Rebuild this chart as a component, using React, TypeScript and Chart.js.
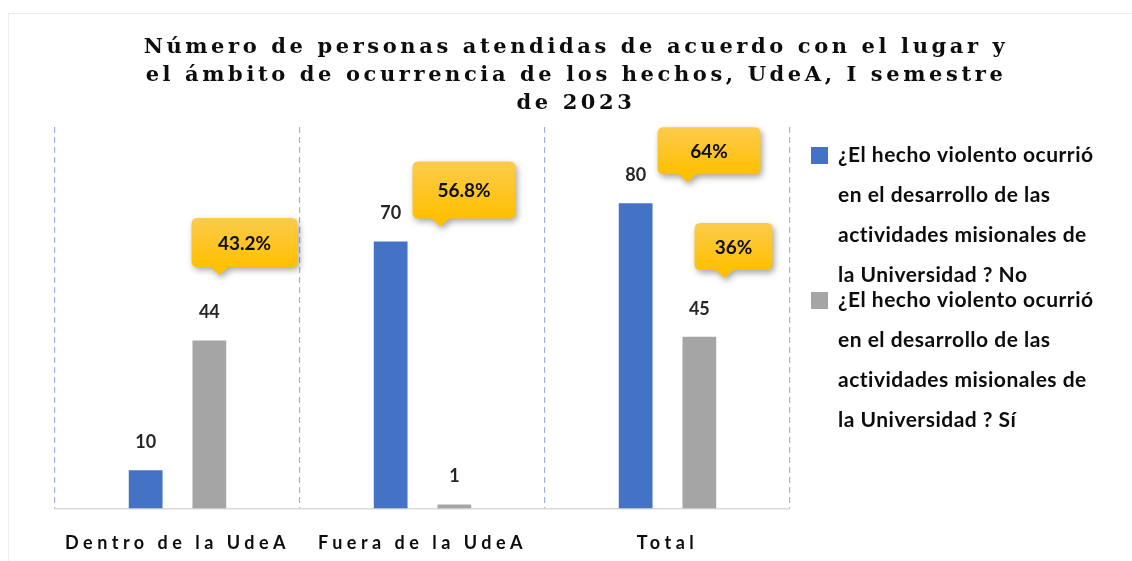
import React, { useEffect, useRef } from "react";
import { Chart, registerables } from "chart.js";

Chart.register(...registerables);

// ---------- DATA ----------
const categories = ["Dentro de la UdeA", "Fuera de la UdeA", "Total"];
const seriesNoValues = [10, 70, 80];
const seriesSiValues = [44, 1, 45];
const seriesNoLegend = [
  "¿El hecho violento ocurrió",
  "en el desarrollo de las",
  "actividades misionales de",
  "la Universidad ? No",
];
const seriesSiLegend = [
  "¿El hecho violento ocurrió",
  "en el desarrollo de las",
  "actividades misionales de",
  "la Universidad ? Sí",
];
const titleLines = [
  "Número de personas atendidas de acuerdo con el lugar y",
  "el ámbito de ocurrencia de los hechos, UdeA, I semestre",
  "de 2023",
];
const calloutTexts = ["43.2%", "56.8%", "64%", "36%"];
const calloutCategory = [0, 1, 2, 2];
const calloutTipValue = [61.2, 73.9, 85.5, 60.4];
const yMin = 0;
const yMax = 100;

// ---------- STYLE / LAYOUT ----------
const W = 1132;
const H = 561;
const BLUE = "#4472C4";
const GRAY = "#A5A5A5";
const TEXT = "#0d0d0d";
// callout geometry (px): tip x offset from category centre, box left from tip, width, height
const calloutLayout = [
  { dx: 42, left: -28, w: 106, h: 49 },
  { dx: 18, left: -28, w: 103, h: 57 },
  { dx: 20, left: -30, w: 103, h: 47 },
  { dx: 57, left: -30, w: 78, h: 47 },
];

const titlePlugin = {
  id: "customTitle",
  afterDraw(chart: any) {
    const ctx = chart.ctx;
    ctx.save();
    ctx.font = "bold 21px 'DejaVu Serif'";
    (ctx as any).letterSpacing = "3.6px";
    ctx.fillStyle = TEXT;
    ctx.textAlign = "center";
    ctx.textBaseline = "middle";
    titleLines.forEach((line, i) => {
      ctx.fillText(line, 576, 48 + i * 28);
    });
    ctx.restore();
  },
};

const spacingPlugin = {
  id: "tickSpacing",
  beforeDraw(chart: any) {
    (chart.ctx as any).letterSpacing = "4.5px";
  },
  beforeDatasetsDraw(chart: any) {
    (chart.ctx as any).letterSpacing = "0px";
  },
};

const valueLabelPlugin = {
  id: "valueLabels",
  afterDatasetsDraw(chart: any) {
    const ctx = chart.ctx;
    ctx.save();
    ctx.font = "bold 18px Lato";
    ctx.fillStyle = "#262626";
    ctx.textAlign = "center";
    ctx.textBaseline = "middle";
    chart.data.datasets.forEach((ds: any, di: number) => {
      const meta = chart.getDatasetMeta(di);
      meta.data.forEach((el: any, i: number) => {
        ctx.fillText(String(ds.data[i]), el.x, el.y - 28);
      });
    });
    ctx.restore();
  },
};

const calloutPlugin = {
  id: "callouts",
  afterDatasetsDraw(chart: any) {
    const ctx = chart.ctx;
    const xs = chart.scales.x;
    const ys = chart.scales.y;
    calloutTexts.forEach((txt, i) => {
      const L = calloutLayout[i];
      const tipX = xs.getPixelForValue(calloutCategory[i]) + L.dx;
      const tipY = ys.getPixelForValue(calloutTipValue[i]);
      const bottom = tipY - 8;
      const top = bottom - L.h;
      const left = tipX + L.left;
      const right = left + L.w;
      const r = 6;
      ctx.save();
      ctx.beginPath();
      ctx.moveTo(left + r, top);
      ctx.lineTo(right - r, top);
      ctx.quadraticCurveTo(right, top, right, top + r);
      ctx.lineTo(right, bottom - r);
      ctx.quadraticCurveTo(right, bottom, right - r, bottom);
      ctx.lineTo(tipX + 9, bottom);
      ctx.lineTo(tipX, tipY);
      ctx.lineTo(tipX - 9, bottom);
      ctx.lineTo(left + r, bottom);
      ctx.quadraticCurveTo(left, bottom, left, bottom - r);
      ctx.lineTo(left, top + r);
      ctx.quadraticCurveTo(left, top, left + r, top);
      ctx.closePath();
      const g = ctx.createLinearGradient(0, top, 0, bottom);
      g.addColorStop(0, "#FCCB4C");
      g.addColorStop(1, "#FFC000");
      ctx.fillStyle = g;
      ctx.shadowColor = "rgba(0,0,0,0.35)";
      ctx.shadowBlur = 6;
      ctx.shadowOffsetX = 2;
      ctx.shadowOffsetY = 3;
      ctx.fill();
      ctx.shadowColor = "transparent";
      ctx.font = "bold 19px Lato";
      ctx.fillStyle = "#0d0d0d";
      ctx.textAlign = "center";
      ctx.textBaseline = "middle";
      ctx.fillText(txt, (left + right) / 2, (top + bottom) / 2 + 1);
      ctx.restore();
    });
  },
};

const legendPlugin = {
  id: "customLegend",
  afterDraw(chart: any) {
    const ctx = chart.ctx;
    const area = chart.chartArea;
    const items = [
      { color: BLUE, lines: seriesNoLegend },
      { color: GRAY, lines: seriesSiLegend },
    ];
    ctx.save();
    ctx.font = "bold 21px Lato";
    (ctx as any).letterSpacing = "0.5px";
    ctx.textAlign = "left";
    ctx.textBaseline = "middle";
    items.forEach((it, k) => {
      const y0 = 155 + k * 145;
      ctx.fillStyle = it.color;
      ctx.fillRect(area.right + 21, y0 - 8, 17, 17);
      ctx.fillStyle = TEXT;
      it.lines.forEach((ln, j) => {
        ctx.fillText(ln, area.right + 48, y0 + j * 40);
      });
    });
    ctx.restore();
  },
};

export default function App() {
  const canvasRef = useRef<HTMLCanvasElement | null>(null);

  useEffect(() => {
    if (!canvasRef.current) return;
    const chart = new Chart(canvasRef.current, {
      type: "bar",
      data: {
        labels: categories,
        datasets: [
          {
            label: seriesNoLegend.join(" "),
            data: seriesNoValues,
            backgroundColor: BLUE,
            categoryPercentage: 0.52,
            barPercentage: 0.53,
          },
          {
            label: seriesSiLegend.join(" "),
            data: seriesSiValues,
            backgroundColor: GRAY,
            categoryPercentage: 0.52,
            barPercentage: 0.53,
          },
        ],
      },
      options: {
        animation: false,
        responsive: false,
        maintainAspectRatio: false,
        devicePixelRatio: 1,
        layout: { padding: { left: 55, right: 342, top: 127, bottom: -17 } },
        plugins: {
          legend: { display: false },
          title: { display: false },
          tooltip: { enabled: false },
        },
        scales: {
          x: {
            grid: {
              offset: true,
              color: "#9cb3e2",
              lineWidth: 1.2,
              drawTicks: false,
            },
            border: { display: true, color: "#d9d9d9", width: 1.5, dash: [6, 4] },
            ticks: {
              font: { family: "Lato", size: 18, weight: "bold" },
              color: TEXT,
              padding: 24,
              autoSkip: false,
              maxRotation: 0,
            },
          },
          y: {
            display: false,
            min: yMin,
            max: yMax,
          },
        },
      },
      plugins: [spacingPlugin, titlePlugin, valueLabelPlugin, calloutPlugin, legendPlugin],
    });
    return () => chart.destroy();
  }, []);

  return (
    <div
      style={{
        position: "fixed",
        left: 0,
        top: 0,
        width: W,
        height: H,
        background: "#ffffff",
      }}
    >
      <div
        style={{
          position: "absolute",
          left: 8,
          top: 13,
          right: -2,
          bottom: -2,
          borderTop: "1px solid #ececec",
          borderLeft: "1px solid #ececec",
        }}
      />
      <canvas
        ref={canvasRef}
        width={W}
        height={H}
        style={{ position: "absolute", left: 0, top: 0, width: W, height: H }}
      />
    </div>
  );
}
